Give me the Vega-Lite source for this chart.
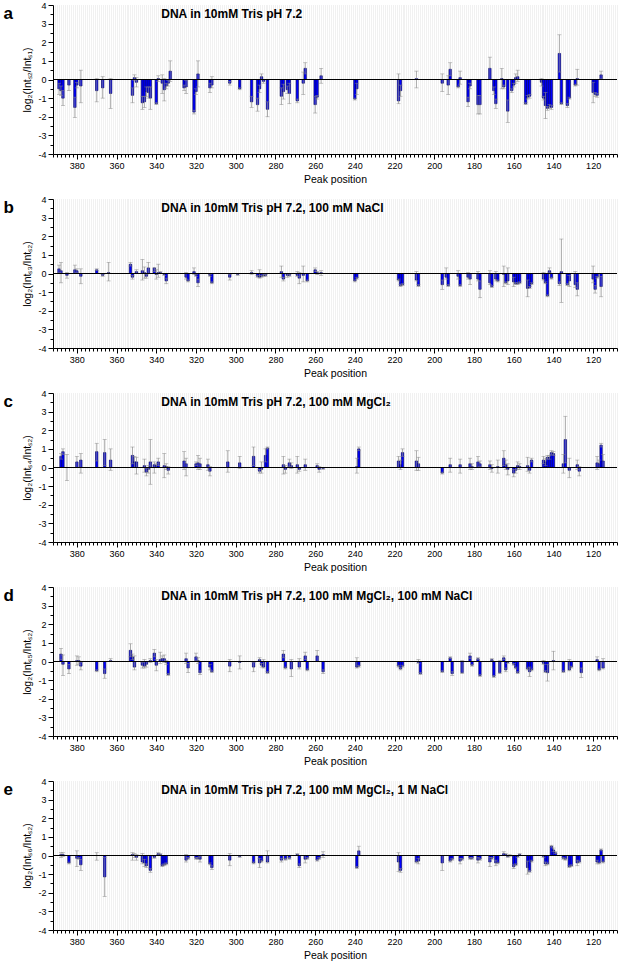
{
"$schema":"https://vega.github.io/schema/vega-lite/v6.json",
"padding":{"left":3,"top":1,"right":0,"bottom":0},
"spacing":10,
"config":{"view":{"stroke":null},"font":"Liberation Sans",
 "axis":{"domainColor":"black","tickColor":"black","labelColor":"black","titleColor":"black","labelFontSize":9,"titleFontSize":10.5,"titleFontWeight":"normal","labelFont":"Liberation Sans","titleFont":"Liberation Sans"}},
"data":{"values":[
{"panel":"a","pos":389,"val":-0.5,"lo":-0.8,"hi":-0.2},
{"panel":"a","pos":388,"val":-0.6,"lo":-0.85,"hi":-0.35},
{"panel":"a","pos":387,"val":-1.0,"lo":-1.4,"hi":-0.6},
{"panel":"a","pos":384,"val":-0.3,"lo":-0.6,"hi":0.0},
{"panel":"a","pos":381,"val":-1.5,"lo":-2.05,"hi":-0.95},
{"panel":"a","pos":380,"val":-0.3,"lo":-0.45,"hi":-0.15},
{"panel":"a","pos":378,"val":-0.35,"lo":-1.25,"hi":0.5},
{"panel":"a","pos":370,"val":-0.6,"lo":-1.2,"hi":0.05},
{"panel":"a","pos":367,"val":-0.45,"lo":-1.0,"hi":0.15},
{"panel":"a","pos":363,"val":-0.75,"lo":-1.55,"hi":0.05},
{"panel":"a","pos":352,"val":-0.85,"lo":-1.25,"hi":-0.45},
{"panel":"a","pos":351,"val":0.1,"lo":-0.05,"hi":0.25},
{"panel":"a","pos":350,"val":-0.15,"lo":-0.4,"hi":0.1},
{"panel":"a","pos":347,"val":-1.25,"lo":-1.6,"hi":-0.9},
{"panel":"a","pos":346,"val":-1.2,"lo":-1.5,"hi":-0.9},
{"panel":"a","pos":345,"val":-0.65,"lo":-0.9,"hi":-0.4},
{"panel":"a","pos":344,"val":-0.7,"lo":-1.0,"hi":-0.4},
{"panel":"a","pos":343,"val":-1.0,"lo":-1.6,"hi":-0.4},
{"panel":"a","pos":340,"val":-1.3,"lo":-1.35,"hi":-1.25},
{"panel":"a","pos":339,"val":0.05,"lo":-0.1,"hi":0.2},
{"panel":"a","pos":337,"val":-0.2,"lo":-0.75,"hi":0.25},
{"panel":"a","pos":336,"val":-0.55,"lo":-1.15,"hi":0.05},
{"panel":"a","pos":335,"val":-0.35,"lo":-0.5,"hi":-0.2},
{"panel":"a","pos":334,"val":-0.2,"lo":-0.35,"hi":-0.05},
{"panel":"a","pos":333,"val":0.45,"lo":-0.1,"hi":1.0},
{"panel":"a","pos":326,"val":-0.45,"lo":-0.6,"hi":-0.3},
{"panel":"a","pos":325,"val":-0.4,"lo":-0.75,"hi":-0.05},
{"panel":"a","pos":321,"val":-1.75,"lo":-1.85,"hi":-1.65},
{"panel":"a","pos":320,"val":-0.65,"lo":-0.8,"hi":-0.5},
{"panel":"a","pos":319,"val":0.3,"lo":-0.4,"hi":1.0},
{"panel":"a","pos":313,"val":-0.45,"lo":-0.7,"hi":-0.2},
{"panel":"a","pos":312,"val":-0.3,"lo":-0.45,"hi":0.15},
{"panel":"a","pos":303,"val":-0.2,"lo":-0.3,"hi":-0.1},
{"panel":"a","pos":298,"val":-0.5,"lo":-0.55,"hi":-0.45},
{"panel":"a","pos":292,"val":-1.2,"lo":-1.5,"hi":-0.9},
{"panel":"a","pos":289,"val":-1.35,"lo":-1.7,"hi":-1.0},
{"panel":"a","pos":288,"val":-0.5,"lo":-0.7,"hi":-0.3},
{"panel":"a","pos":287,"val":0.15,"lo":0.0,"hi":0.3},
{"panel":"a","pos":286,"val":-0.1,"lo":-0.2,"hi":0.0},
{"panel":"a","pos":284,"val":-1.6,"lo":-2.0,"hi":-1.2},
{"panel":"a","pos":277,"val":-0.9,"lo":-1.35,"hi":-0.45},
{"panel":"a","pos":276,"val":-0.65,"lo":-1.05,"hi":-0.25},
{"panel":"a","pos":274,"val":-0.55,"lo":-0.75,"hi":-0.35},
{"panel":"a","pos":273,"val":-0.75,"lo":-1.3,"hi":-0.2},
{"panel":"a","pos":269,"val":-1.15,"lo":-1.25,"hi":-1.05},
{"panel":"a","pos":266,"val":-0.2,"lo":-0.8,"hi":0.4},
{"panel":"a","pos":265,"val":0.6,"lo":0.3,"hi":0.9},
{"panel":"a","pos":260,"val":-1.35,"lo":-1.8,"hi":-0.9},
{"panel":"a","pos":259,"val":-0.95,"lo":-1.05,"hi":-0.85},
{"panel":"a","pos":257,"val":0.2,"lo":-0.2,"hi":0.6},
{"panel":"a","pos":240,"val":-1.05,"lo":-1.1,"hi":-1.0},
{"panel":"a","pos":239,"val":-0.5,"lo":-0.8,"hi":-0.2},
{"panel":"a","pos":218,"val":-1.15,"lo":-1.3,"hi":0.3},
{"panel":"a","pos":217,"val":-0.6,"lo":-0.9,"hi":-0.3},
{"panel":"a","pos":209,"val":0.05,"lo":-0.45,"hi":0.45},
{"panel":"a","pos":196,"val":-0.2,"lo":-0.65,"hi":0.3},
{"panel":"a","pos":193,"val":-0.3,"lo":-0.8,"hi":0.2},
{"panel":"a","pos":192,"val":0.55,"lo":0.2,"hi":0.9},
{"panel":"a","pos":188,"val":-0.4,"lo":-0.45,"hi":-0.35},
{"panel":"a","pos":187,"val":0.1,"lo":-0.25,"hi":0.45},
{"panel":"a","pos":183,"val":-1.2,"lo":-1.45,"hi":-0.95},
{"panel":"a","pos":182,"val":-0.35,"lo":-0.5,"hi":-0.2},
{"panel":"a","pos":178,"val":-1.35,"lo":-1.85,"hi":-0.85},
{"panel":"a","pos":177,"val":-1.35,"lo":-1.85,"hi":-0.85},
{"panel":"a","pos":172,"val":0.6,"lo":0.0,"hi":1.2},
{"panel":"a","pos":170,"val":-0.6,"lo":-0.8,"hi":-0.4},
{"panel":"a","pos":169,"val":-1.3,"lo":-1.55,"hi":-1.05},
{"panel":"a","pos":166,"val":0.05,"lo":-0.5,"hi":0.6},
{"panel":"a","pos":165,"val":-0.4,"lo":-0.5,"hi":-0.3},
{"panel":"a","pos":163,"val":-1.7,"lo":-2.3,"hi":-1.1},
{"panel":"a","pos":161,"val":-0.6,"lo":-0.7,"hi":-0.5},
{"panel":"a","pos":160,"val":-0.3,"lo":-0.4,"hi":-0.2},
{"panel":"a","pos":159,"val":0.1,"lo":-0.2,"hi":0.3},
{"panel":"a","pos":158,"val":0.15,"lo":-0.1,"hi":0.5},
{"panel":"a","pos":154,"val":-1.3,"lo":-1.35,"hi":-1.25},
{"panel":"a","pos":153,"val":-0.95,"lo":-1.05,"hi":-0.85},
{"panel":"a","pos":152,"val":-0.9,"lo":-1.0,"hi":-0.8},
{"panel":"a","pos":146,"val":-0.15,"lo":-0.35,"hi":0.05},
{"panel":"a","pos":145,"val":-1.0,"lo":-1.1,"hi":-0.9},
{"panel":"a","pos":144,"val":-1.4,"lo":-2.1,"hi":-0.7},
{"panel":"a","pos":143,"val":-1.55,"lo":-1.65,"hi":-1.45},
{"panel":"a","pos":142,"val":-1.45,"lo":-1.55,"hi":-1.35},
{"panel":"a","pos":141,"val":-1.5,"lo":-1.6,"hi":-1.4},
{"panel":"a","pos":137,"val":1.4,"lo":0.4,"hi":2.4},
{"panel":"a","pos":136,"val":-1.3,"lo":-1.35,"hi":-1.25},
{"panel":"a","pos":133,"val":-1.4,"lo":-1.5,"hi":-1.3},
{"panel":"a","pos":132,"val":-1.0,"lo":-1.05,"hi":-0.95},
{"panel":"a","pos":129,"val":-0.3,"lo":-0.35,"hi":-0.25},
{"panel":"a","pos":128,"val":0.05,"lo":-0.3,"hi":0.55},
{"panel":"a","pos":120,"val":-0.7,"lo":-1.25,"hi":-0.15},
{"panel":"a","pos":119,"val":-0.8,"lo":-0.9,"hi":-0.7},
{"panel":"a","pos":118,"val":-0.85,"lo":-0.95,"hi":-0.75},
{"panel":"a","pos":116,"val":0.25,"lo":0.05,"hi":0.45},

{"panel":"b","pos":389,"val":0.25,"lo":0.05,"hi":0.45},
{"panel":"b","pos":388,"val":0.15,"lo":-0.5,"hi":0.6},
{"panel":"b","pos":385,"val":-0.1,"lo":-0.25,"hi":0.05},
{"panel":"b","pos":381,"val":0.2,"lo":0.0,"hi":0.45},
{"panel":"b","pos":380,"val":0.15,"lo":0.05,"hi":0.25},
{"panel":"b","pos":378,"val":-0.15,"lo":-0.55,"hi":0.25},
{"panel":"b","pos":370,"val":0.2,"lo":0.15,"hi":0.25},
{"panel":"b","pos":367,"val":-0.1,"lo":-0.15,"hi":-0.05},
{"panel":"b","pos":364,"val":0.05,"lo":-0.4,"hi":0.6},
{"panel":"b","pos":353,"val":0.5,"lo":0.4,"hi":0.6},
{"panel":"b","pos":352,"val":-0.2,"lo":-0.3,"hi":-0.1},
{"panel":"b","pos":350,"val":0.1,"lo":0.0,"hi":0.2},
{"panel":"b","pos":347,"val":0.15,"lo":-0.35,"hi":0.75},
{"panel":"b","pos":346,"val":0.05,"lo":-0.25,"hi":0.35},
{"panel":"b","pos":345,"val":-0.15,"lo":-0.25,"hi":-0.05},
{"panel":"b","pos":344,"val":0.3,"lo":0.0,"hi":0.6},
{"panel":"b","pos":341,"val":0.3,"lo":0.1,"hi":0.3},
{"panel":"b","pos":340,"val":-0.05,"lo":-0.3,"hi":0.2},
{"panel":"b","pos":339,"val":0.05,"lo":-0.2,"hi":0.5},
{"panel":"b","pos":338,"val":0.05,"lo":0.0,"hi":0.1},
{"panel":"b","pos":336,"val":-0.05,"lo":-0.1,"hi":0.0},
{"panel":"b","pos":335,"val":-0.4,"lo":-0.55,"hi":-0.25},
{"panel":"b","pos":325,"val":-0.2,"lo":-0.3,"hi":0.05},
{"panel":"b","pos":324,"val":-0.4,"lo":-0.45,"hi":-0.35},
{"panel":"b","pos":321,"val":0.1,"lo":-0.05,"hi":0.3},
{"panel":"b","pos":320,"val":-0.1,"lo":-0.15,"hi":-0.05},
{"panel":"b","pos":319,"val":-0.5,"lo":-0.7,"hi":-0.3},
{"panel":"b","pos":313,"val":-0.1,"lo":-0.15,"hi":-0.05},
{"panel":"b","pos":312,"val":-0.5,"lo":-0.55,"hi":-0.45},
{"panel":"b","pos":303,"val":-0.2,"lo":-0.35,"hi":-0.05},
{"panel":"b","pos":299,"val":-0.05,"lo":-0.1,"hi":0.0},
{"panel":"b","pos":292,"val":0.05,"lo":-0.05,"hi":0.15},
{"panel":"b","pos":289,"val":-0.15,"lo":-0.2,"hi":-0.1},
{"panel":"b","pos":288,"val":-0.2,"lo":-0.25,"hi":0.2},
{"panel":"b","pos":287,"val":-0.15,"lo":-0.2,"hi":-0.1},
{"panel":"b","pos":286,"val":-0.1,"lo":-0.15,"hi":-0.05},
{"panel":"b","pos":285,"val":-0.1,"lo":-0.15,"hi":-0.05},
{"panel":"b","pos":277,"val":0.1,"lo":-0.2,"hi":0.4},
{"panel":"b","pos":276,"val":-0.3,"lo":-0.4,"hi":-0.2},
{"panel":"b","pos":274,"val":-0.1,"lo":-0.2,"hi":0.0},
{"panel":"b","pos":273,"val":-0.1,"lo":-0.15,"hi":-0.05},
{"panel":"b","pos":269,"val":-0.1,"lo":-0.15,"hi":0.1},
{"panel":"b","pos":268,"val":-0.25,"lo":-0.55,"hi":0.05},
{"panel":"b","pos":266,"val":-0.1,"lo":-0.45,"hi":0.4},
{"panel":"b","pos":264,"val":-0.4,"lo":-0.45,"hi":-0.35},
{"panel":"b","pos":260,"val":0.2,"lo":0.1,"hi":0.3},
{"panel":"b","pos":259,"val":0.05,"lo":-0.05,"hi":0.1},
{"panel":"b","pos":257,"val":0.05,"lo":-0.1,"hi":0.15},
{"panel":"b","pos":240,"val":-0.4,"lo":-0.45,"hi":-0.35},
{"panel":"b","pos":239,"val":-0.25,"lo":-0.3,"hi":-0.2},
{"panel":"b","pos":218,"val":-0.35,"lo":-0.4,"hi":-0.3},
{"panel":"b","pos":217,"val":-0.65,"lo":-0.7,"hi":-0.6},
{"panel":"b","pos":216,"val":-0.6,"lo":-0.65,"hi":-0.55},
{"panel":"b","pos":209,"val":-0.35,"lo":-0.4,"hi":0.1},
{"panel":"b","pos":208,"val":-0.65,"lo":-0.7,"hi":-0.6},
{"panel":"b","pos":196,"val":-0.6,"lo":-0.85,"hi":-0.35},
{"panel":"b","pos":194,"val":-0.2,"lo":-0.3,"hi":0.3},
{"panel":"b","pos":193,"val":-0.65,"lo":-0.7,"hi":-0.6},
{"panel":"b","pos":188,"val":-0.15,"lo":-0.3,"hi":0.15},
{"panel":"b","pos":187,"val":-0.65,"lo":-0.7,"hi":-0.6},
{"panel":"b","pos":183,"val":-0.2,"lo":-0.3,"hi":0.05},
{"panel":"b","pos":182,"val":-0.3,"lo":-0.6,"hi":0.0},
{"panel":"b","pos":178,"val":-0.3,"lo":-0.4,"hi":0.1},
{"panel":"b","pos":177,"val":-0.85,"lo":-1.3,"hi":-0.4},
{"panel":"b","pos":172,"val":-0.5,"lo":-0.6,"hi":0.15},
{"panel":"b","pos":171,"val":-0.7,"lo":-0.75,"hi":-0.65},
{"panel":"b","pos":169,"val":-0.3,"lo":-0.4,"hi":0.1},
{"panel":"b","pos":168,"val":-0.4,"lo":-0.45,"hi":-0.35},
{"panel":"b","pos":165,"val":-0.05,"lo":-0.7,"hi":0.4},
{"panel":"b","pos":164,"val":-0.5,"lo":-0.55,"hi":-0.45},
{"panel":"b","pos":163,"val":-0.4,"lo":-0.6,"hi":0.3},
{"panel":"b","pos":160,"val":-0.45,"lo":-0.7,"hi":-0.2},
{"panel":"b","pos":159,"val":-0.55,"lo":-0.6,"hi":-0.5},
{"panel":"b","pos":158,"val":-0.55,"lo":-0.6,"hi":-0.5},
{"panel":"b","pos":157,"val":-0.5,"lo":-0.55,"hi":-0.45},
{"panel":"b","pos":153,"val":-0.8,"lo":-1.25,"hi":-0.35},
{"panel":"b","pos":152,"val":-0.75,"lo":-0.8,"hi":-0.7},
{"panel":"b","pos":151,"val":-0.55,"lo":-0.6,"hi":-0.5},
{"panel":"b","pos":145,"val":-0.3,"lo":-0.35,"hi":0.05},
{"panel":"b","pos":144,"val":-0.5,"lo":-0.55,"hi":-0.45},
{"panel":"b","pos":143,"val":-1.2,"lo":-1.25,"hi":-1.15},
{"panel":"b","pos":142,"val":0.15,"lo":0.05,"hi":0.3},
{"panel":"b","pos":141,"val":-0.25,"lo":-0.3,"hi":-0.2},
{"panel":"b","pos":137,"val":-0.55,"lo":-0.65,"hi":-0.45},
{"panel":"b","pos":136,"val":0.1,"lo":-1.55,"hi":1.85},
{"panel":"b","pos":133,"val":-0.6,"lo":-0.65,"hi":-0.55},
{"panel":"b","pos":132,"val":-0.4,"lo":-0.7,"hi":-0.1},
{"panel":"b","pos":129,"val":-0.6,"lo":-0.75,"hi":0.1},
{"panel":"b","pos":128,"val":-0.85,"lo":-1.2,"hi":-0.5},
{"panel":"b","pos":120,"val":-0.3,"lo":-0.5,"hi":0.4},
{"panel":"b","pos":119,"val":-0.85,"lo":-1.05,"hi":-0.65},
{"panel":"b","pos":118,"val":-0.2,"lo":-0.25,"hi":-0.15},
{"panel":"b","pos":116,"val":-0.7,"lo":-1.25,"hi":-0.15},

{"panel":"c","pos":388,"val":0.6,"lo":0.45,"hi":0.75},
{"panel":"c","pos":387,"val":0.85,"lo":0.7,"hi":1.0},
{"panel":"c","pos":385,"val":0.0,"lo":-0.7,"hi":0.7},
{"panel":"c","pos":380,"val":0.3,"lo":0.0,"hi":0.6},
{"panel":"c","pos":378,"val":0.4,"lo":-0.3,"hi":0.75},
{"panel":"c","pos":370,"val":0.85,"lo":0.35,"hi":1.3},
{"panel":"c","pos":366,"val":0.8,"lo":0.1,"hi":1.5},
{"panel":"c","pos":363,"val":0.4,"lo":-0.15,"hi":1.0},
{"panel":"c","pos":352,"val":0.65,"lo":0.2,"hi":1.1},
{"panel":"c","pos":351,"val":0.3,"lo":0.0,"hi":0.6},
{"panel":"c","pos":350,"val":0.3,"lo":-0.35,"hi":0.55},
{"panel":"c","pos":346,"val":0.1,"lo":-0.25,"hi":0.45},
{"panel":"c","pos":345,"val":-0.25,"lo":-0.45,"hi":-0.05},
{"panel":"c","pos":344,"val":-0.1,"lo":-0.3,"hi":0.1},
{"panel":"c","pos":343,"val":0.3,"lo":-0.9,"hi":1.5},
{"panel":"c","pos":341,"val":0.15,"lo":-0.3,"hi":0.3},
{"panel":"c","pos":340,"val":0.1,"lo":0.0,"hi":0.2},
{"panel":"c","pos":339,"val":0.3,"lo":0.1,"hi":0.5},
{"panel":"c","pos":336,"val":0.1,"lo":-0.55,"hi":0.75},
{"panel":"c","pos":335,"val":0.05,"lo":-0.1,"hi":0.2},
{"panel":"c","pos":334,"val":-0.15,"lo":-0.35,"hi":0.05},
{"panel":"c","pos":326,"val":0.35,"lo":-0.1,"hi":0.85},
{"panel":"c","pos":325,"val":0.2,"lo":-0.45,"hi":0.5},
{"panel":"c","pos":320,"val":0.2,"lo":0.1,"hi":0.3},
{"panel":"c","pos":319,"val":0.25,"lo":-0.1,"hi":0.65},
{"panel":"c","pos":318,"val":0.2,"lo":-0.1,"hi":0.5},
{"panel":"c","pos":314,"val":0.15,"lo":-0.15,"hi":0.45},
{"panel":"c","pos":313,"val":-0.2,"lo":-0.45,"hi":0.05},
{"panel":"c","pos":304,"val":0.3,"lo":-0.25,"hi":0.9},
{"panel":"c","pos":298,"val":0.25,"lo":-0.05,"hi":0.6},
{"panel":"c","pos":291,"val":0.6,"lo":0.1,"hi":1.1},
{"panel":"c","pos":288,"val":-0.2,"lo":-0.3,"hi":-0.1},
{"panel":"c","pos":287,"val":-0.1,"lo":-0.3,"hi":0.3},
{"panel":"c","pos":285,"val":0.65,"lo":0.3,"hi":1.0},
{"panel":"c","pos":284,"val":1.05,"lo":1.0,"hi":1.1},
{"panel":"c","pos":276,"val":0.15,"lo":-0.35,"hi":0.6},
{"panel":"c","pos":275,"val":-0.1,"lo":-0.3,"hi":0.1},
{"panel":"c","pos":273,"val":0.25,"lo":0.05,"hi":0.45},
{"panel":"c","pos":272,"val":0.1,"lo":-0.05,"hi":0.25},
{"panel":"c","pos":269,"val":0.15,"lo":-0.3,"hi":0.6},
{"panel":"c","pos":268,"val":-0.1,"lo":-0.2,"hi":0.0},
{"panel":"c","pos":265,"val":0.15,"lo":-0.15,"hi":0.45},
{"panel":"c","pos":259,"val":0.1,"lo":0.0,"hi":0.2},
{"panel":"c","pos":258,"val":-0.1,"lo":-0.25,"hi":0.05},
{"panel":"c","pos":256,"val":-0.05,"lo":-0.1,"hi":0.0},
{"panel":"c","pos":239,"val":0.05,"lo":-0.3,"hi":0.5},
{"panel":"c","pos":238,"val":1.0,"lo":0.9,"hi":1.1},
{"panel":"c","pos":218,"val":0.35,"lo":0.0,"hi":0.6},
{"panel":"c","pos":217,"val":0.15,"lo":-0.1,"hi":0.4},
{"panel":"c","pos":216,"val":0.8,"lo":0.6,"hi":1.0},
{"panel":"c","pos":209,"val":0.35,"lo":-0.15,"hi":0.9},
{"panel":"c","pos":208,"val":0.2,"lo":-0.15,"hi":0.55},
{"panel":"c","pos":196,"val":-0.3,"lo":-0.35,"hi":-0.25},
{"panel":"c","pos":192,"val":0.15,"lo":-0.25,"hi":0.5},
{"panel":"c","pos":187,"val":0.15,"lo":-0.3,"hi":0.45},
{"panel":"c","pos":182,"val":0.2,"lo":-0.1,"hi":0.5},
{"panel":"c","pos":181,"val":0.05,"lo":-0.1,"hi":0.2},
{"panel":"c","pos":178,"val":0.3,"lo":0.0,"hi":0.6},
{"panel":"c","pos":177,"val":0.2,"lo":0.05,"hi":0.35},
{"panel":"c","pos":172,"val":0.15,"lo":-0.1,"hi":0.35},
{"panel":"c","pos":171,"val":-0.05,"lo":-0.25,"hi":0.15},
{"panel":"c","pos":168,"val":0.05,"lo":-0.3,"hi":0.4},
{"panel":"c","pos":165,"val":0.5,"lo":0.1,"hi":0.9},
{"panel":"c","pos":164,"val":0.15,"lo":-0.1,"hi":0.4},
{"panel":"c","pos":163,"val":-0.1,"lo":-0.4,"hi":0.2},
{"panel":"c","pos":160,"val":-0.3,"lo":-0.5,"hi":-0.1},
{"panel":"c","pos":159,"val":-0.15,"lo":-0.3,"hi":0.0},
{"panel":"c","pos":158,"val":0.1,"lo":-0.1,"hi":0.3},
{"panel":"c","pos":157,"val":0.05,"lo":-0.1,"hi":0.2},
{"panel":"c","pos":153,"val":0.1,"lo":-0.2,"hi":0.55},
{"panel":"c","pos":152,"val":-0.15,"lo":-0.3,"hi":0.0},
{"panel":"c","pos":151,"val":0.4,"lo":0.3,"hi":0.5},
{"panel":"c","pos":145,"val":0.4,"lo":0.2,"hi":0.6},
{"panel":"c","pos":144,"val":0.3,"lo":0.1,"hi":0.5},
{"panel":"c","pos":143,"val":0.55,"lo":0.45,"hi":0.65},
{"panel":"c","pos":142,"val":0.55,"lo":0.45,"hi":0.65},
{"panel":"c","pos":141,"val":0.8,"lo":0.7,"hi":0.9},
{"panel":"c","pos":140,"val":0.75,"lo":0.65,"hi":0.85},
{"panel":"c","pos":135,"val":0.2,"lo":-0.3,"hi":0.7},
{"panel":"c","pos":134,"val":1.5,"lo":0.25,"hi":2.75},
{"panel":"c","pos":132,"val":-0.15,"lo":-0.55,"hi":0.5},
{"panel":"c","pos":128,"val":0.15,"lo":-0.1,"hi":0.4},
{"panel":"c","pos":127,"val":-0.2,"lo":-0.45,"hi":0.05},
{"panel":"c","pos":118,"val":0.25,"lo":-0.1,"hi":0.6},
{"panel":"c","pos":117,"val":0.2,"lo":0.0,"hi":0.4},
{"panel":"c","pos":116,"val":1.2,"lo":1.1,"hi":1.3},
{"panel":"c","pos":115,"val":0.35,"lo":0.0,"hi":0.7},

{"panel":"d","pos":388,"val":0.4,"lo":0.1,"hi":0.7},
{"panel":"d","pos":387,"val":-0.15,"lo":-0.75,"hi":0.35},
{"panel":"d","pos":384,"val":-0.4,"lo":-0.65,"hi":-0.15},
{"panel":"d","pos":380,"val":0.05,"lo":-0.2,"hi":0.3},
{"panel":"d","pos":379,"val":0.05,"lo":-0.15,"hi":0.25},
{"panel":"d","pos":378,"val":-0.25,"lo":-0.45,"hi":-0.05},
{"panel":"d","pos":370,"val":-0.5,"lo":-0.55,"hi":-0.45},
{"panel":"d","pos":366,"val":-0.65,"lo":-0.9,"hi":-0.4},
{"panel":"d","pos":363,"val":0.05,"lo":0.0,"hi":0.15},
{"panel":"d","pos":353,"val":0.6,"lo":0.25,"hi":0.95},
{"panel":"d","pos":352,"val":0.25,"lo":0.1,"hi":0.4},
{"panel":"d","pos":351,"val":-0.3,"lo":-0.45,"hi":0.3},
{"panel":"d","pos":347,"val":-0.2,"lo":-0.35,"hi":-0.05},
{"panel":"d","pos":346,"val":-0.25,"lo":-0.35,"hi":0.1},
{"panel":"d","pos":345,"val":-0.15,"lo":-0.3,"hi":0.0},
{"panel":"d","pos":343,"val":0.05,"lo":-0.05,"hi":0.15},
{"panel":"d","pos":341,"val":0.45,"lo":0.25,"hi":0.65},
{"panel":"d","pos":340,"val":-0.2,"lo":-0.5,"hi":0.1},
{"panel":"d","pos":338,"val":0.1,"lo":-0.1,"hi":0.5},
{"panel":"d","pos":337,"val":0.15,"lo":0.0,"hi":0.3},
{"panel":"d","pos":336,"val":0.15,"lo":-0.05,"hi":0.35},
{"panel":"d","pos":335,"val":-0.05,"lo":-0.15,"hi":0.05},
{"panel":"d","pos":334,"val":-0.7,"lo":-0.75,"hi":-0.65},
{"panel":"d","pos":325,"val":0.15,"lo":-0.1,"hi":0.45},
{"panel":"d","pos":324,"val":-0.35,"lo":-0.6,"hi":-0.1},
{"panel":"d","pos":320,"val":0.25,"lo":0.05,"hi":0.45},
{"panel":"d","pos":319,"val":0.05,"lo":-0.1,"hi":0.2},
{"panel":"d","pos":318,"val":-0.6,"lo":-0.7,"hi":-0.5},
{"panel":"d","pos":313,"val":-0.3,"lo":-0.45,"hi":-0.15},
{"panel":"d","pos":312,"val":-0.55,"lo":-0.6,"hi":-0.5},
{"panel":"d","pos":303,"val":-0.25,"lo":-0.55,"hi":0.1},
{"panel":"d","pos":298,"val":-0.05,"lo":-0.4,"hi":0.3},
{"panel":"d","pos":291,"val":-0.3,"lo":-0.55,"hi":-0.05},
{"panel":"d","pos":288,"val":0.1,"lo":0.0,"hi":0.2},
{"panel":"d","pos":287,"val":-0.2,"lo":-0.3,"hi":-0.1},
{"panel":"d","pos":286,"val":-0.3,"lo":-0.35,"hi":0.1},
{"panel":"d","pos":284,"val":-0.6,"lo":-0.65,"hi":-0.55},
{"panel":"d","pos":276,"val":0.4,"lo":0.2,"hi":0.6},
{"panel":"d","pos":275,"val":-0.35,"lo":-0.4,"hi":-0.3},
{"panel":"d","pos":272,"val":-0.4,"lo":-0.8,"hi":0.1},
{"panel":"d","pos":268,"val":-0.3,"lo":-0.4,"hi":0.15},
{"panel":"d","pos":265,"val":0.3,"lo":0.1,"hi":0.5},
{"panel":"d","pos":264,"val":-0.45,"lo":-0.5,"hi":-0.4},
{"panel":"d","pos":259,"val":0.3,"lo":0.0,"hi":0.6},
{"panel":"d","pos":256,"val":-0.55,"lo":-0.65,"hi":-0.45},
{"panel":"d","pos":239,"val":-0.3,"lo":-0.35,"hi":0.2},
{"panel":"d","pos":238,"val":-0.25,"lo":-0.3,"hi":-0.2},
{"panel":"d","pos":218,"val":-0.25,"lo":-0.3,"hi":-0.2},
{"panel":"d","pos":217,"val":-0.4,"lo":-0.45,"hi":-0.35},
{"panel":"d","pos":216,"val":-0.25,"lo":-0.3,"hi":-0.2},
{"panel":"d","pos":208,"val":-0.05,"lo":-0.1,"hi":0.1},
{"panel":"d","pos":207,"val":-0.65,"lo":-0.7,"hi":-0.6},
{"panel":"d","pos":196,"val":-0.55,"lo":-0.6,"hi":-0.5},
{"panel":"d","pos":192,"val":0.2,"lo":0.15,"hi":0.25},
{"panel":"d","pos":191,"val":-0.65,"lo":-0.75,"hi":-0.55},
{"panel":"d","pos":186,"val":-0.6,"lo":-0.65,"hi":0.05},
{"panel":"d","pos":182,"val":0.3,"lo":0.15,"hi":0.45},
{"panel":"d","pos":181,"val":-0.2,"lo":-0.25,"hi":-0.15},
{"panel":"d","pos":178,"val":0.15,"lo":0.1,"hi":0.2},
{"panel":"d","pos":177,"val":-0.75,"lo":-0.8,"hi":-0.7},
{"panel":"d","pos":171,"val":0.1,"lo":0.05,"hi":0.15},
{"panel":"d","pos":170,"val":-0.8,"lo":-0.85,"hi":-0.75},
{"panel":"d","pos":167,"val":-0.6,"lo":-0.65,"hi":0.05},
{"panel":"d","pos":165,"val":0.2,"lo":0.1,"hi":0.3},
{"panel":"d","pos":164,"val":-0.45,"lo":-0.55,"hi":-0.35},
{"panel":"d","pos":163,"val":-0.05,"lo":-0.1,"hi":0.0},
{"panel":"d","pos":160,"val":-0.15,"lo":-0.2,"hi":-0.1},
{"panel":"d","pos":159,"val":-0.35,"lo":-0.4,"hi":-0.3},
{"panel":"d","pos":158,"val":-0.6,"lo":-0.65,"hi":-0.55},
{"panel":"d","pos":153,"val":-0.4,"lo":-0.45,"hi":-0.35},
{"panel":"d","pos":152,"val":-0.55,"lo":-0.8,"hi":-0.3},
{"panel":"d","pos":151,"val":-0.45,"lo":-0.5,"hi":-0.4},
{"panel":"d","pos":145,"val":-0.1,"lo":-0.15,"hi":0.05},
{"panel":"d","pos":144,"val":-0.55,"lo":-0.6,"hi":-0.5},
{"panel":"d","pos":143,"val":-0.6,"lo":-1.05,"hi":-0.15},
{"panel":"d","pos":140,"val":0.05,"lo":-0.45,"hi":0.55},
{"panel":"d","pos":135,"val":-0.55,"lo":-0.6,"hi":-0.5},
{"panel":"d","pos":132,"val":-0.45,"lo":-0.5,"hi":0.1},
{"panel":"d","pos":131,"val":-0.3,"lo":-0.35,"hi":-0.25},
{"panel":"d","pos":126,"val":-0.6,"lo":-0.85,"hi":-0.35},
{"panel":"d","pos":118,"val":0.1,"lo":0.0,"hi":0.25},
{"panel":"d","pos":117,"val":-0.45,"lo":-0.5,"hi":-0.4},
{"panel":"d","pos":115,"val":-0.35,"lo":-0.4,"hi":0.15},

{"panel":"e","pos":388,"val":0.05,"lo":-0.1,"hi":0.15},
{"panel":"e","pos":387,"val":0.05,"lo":-0.05,"hi":0.15},
{"panel":"e","pos":384,"val":-0.4,"lo":-0.45,"hi":-0.35},
{"panel":"e","pos":380,"val":-0.15,"lo":-0.6,"hi":0.25},
{"panel":"e","pos":379,"val":-0.15,"lo":-0.2,"hi":-0.1},
{"panel":"e","pos":378,"val":-0.5,"lo":-0.8,"hi":-0.2},
{"panel":"e","pos":370,"val":0.0,"lo":-0.25,"hi":0.15},
{"panel":"e","pos":366,"val":-1.15,"lo":-2.2,"hi":-0.1},
{"panel":"e","pos":352,"val":0.05,"lo":-0.25,"hi":0.15},
{"panel":"e","pos":351,"val":0.0,"lo":-0.1,"hi":0.1},
{"panel":"e","pos":350,"val":-0.1,"lo":-0.25,"hi":0.05},
{"panel":"e","pos":347,"val":-0.35,"lo":-0.45,"hi":0.1},
{"panel":"e","pos":346,"val":-0.4,"lo":-0.6,"hi":-0.2},
{"panel":"e","pos":345,"val":-0.55,"lo":-0.65,"hi":-0.45},
{"panel":"e","pos":343,"val":-0.8,"lo":-0.9,"hi":-0.7},
{"panel":"e","pos":341,"val":-0.1,"lo":-0.15,"hi":0.0},
{"panel":"e","pos":339,"val":0.1,"lo":0.05,"hi":0.15},
{"panel":"e","pos":338,"val":0.05,"lo":0.0,"hi":0.1},
{"panel":"e","pos":337,"val":-0.55,"lo":-0.6,"hi":-0.5},
{"panel":"e","pos":336,"val":-0.5,"lo":-0.55,"hi":-0.45},
{"panel":"e","pos":335,"val":-0.45,"lo":-0.5,"hi":-0.4},
{"panel":"e","pos":325,"val":-0.25,"lo":-0.35,"hi":0.05},
{"panel":"e","pos":324,"val":-0.15,"lo":-0.2,"hi":-0.1},
{"panel":"e","pos":320,"val":-0.15,"lo":-0.2,"hi":-0.1},
{"panel":"e","pos":319,"val":-0.15,"lo":-0.2,"hi":-0.1},
{"panel":"e","pos":318,"val":-0.2,"lo":-0.35,"hi":-0.05},
{"panel":"e","pos":313,"val":-0.45,"lo":-0.5,"hi":-0.4},
{"panel":"e","pos":312,"val":-0.65,"lo":-0.75,"hi":-0.55},
{"panel":"e","pos":303,"val":-0.25,"lo":-0.55,"hi":0.1},
{"panel":"e","pos":298,"val":-0.05,"lo":-0.1,"hi":0.0},
{"panel":"e","pos":291,"val":-0.4,"lo":-0.45,"hi":-0.35},
{"panel":"e","pos":288,"val":-0.4,"lo":-0.65,"hi":-0.15},
{"panel":"e","pos":287,"val":-0.3,"lo":-0.35,"hi":-0.25},
{"panel":"e","pos":284,"val":-0.35,"lo":-0.4,"hi":0.25},
{"panel":"e","pos":277,"val":-0.25,"lo":-0.35,"hi":-0.15},
{"panel":"e","pos":275,"val":-0.2,"lo":-0.25,"hi":-0.15},
{"panel":"e","pos":273,"val":-0.15,"lo":-0.2,"hi":-0.1},
{"panel":"e","pos":269,"val":0.05,"lo":0.0,"hi":0.1},
{"panel":"e","pos":268,"val":-0.55,"lo":-0.65,"hi":-0.45},
{"panel":"e","pos":265,"val":-0.2,"lo":-0.4,"hi":0.0},
{"panel":"e","pos":264,"val":-0.15,"lo":-0.2,"hi":-0.1},
{"panel":"e","pos":259,"val":-0.25,"lo":-0.3,"hi":-0.2},
{"panel":"e","pos":258,"val":-0.15,"lo":-0.2,"hi":-0.1},
{"panel":"e","pos":256,"val":0.05,"lo":-0.1,"hi":0.2},
{"panel":"e","pos":239,"val":-0.65,"lo":-0.7,"hi":-0.6},
{"panel":"e","pos":238,"val":0.25,"lo":0.0,"hi":0.5},
{"panel":"e","pos":218,"val":-0.35,"lo":-0.85,"hi":0.15},
{"panel":"e","pos":217,"val":-0.8,"lo":-0.9,"hi":-0.7},
{"panel":"e","pos":209,"val":-0.35,"lo":-0.4,"hi":-0.3},
{"panel":"e","pos":208,"val":-0.3,"lo":-0.45,"hi":-0.15},
{"panel":"e","pos":196,"val":-0.4,"lo":-0.8,"hi":0.0},
{"panel":"e","pos":192,"val":-0.3,"lo":-0.35,"hi":-0.25},
{"panel":"e","pos":191,"val":-0.2,"lo":-0.25,"hi":-0.15},
{"panel":"e","pos":187,"val":-0.3,"lo":-0.45,"hi":-0.15},
{"panel":"e","pos":186,"val":-0.2,"lo":-0.25,"hi":-0.15},
{"panel":"e","pos":182,"val":-0.15,"lo":-0.2,"hi":-0.1},
{"panel":"e","pos":181,"val":-0.15,"lo":-0.2,"hi":-0.1},
{"panel":"e","pos":178,"val":-0.25,"lo":-0.4,"hi":-0.1},
{"panel":"e","pos":177,"val":-0.2,"lo":-0.25,"hi":-0.15},
{"panel":"e","pos":172,"val":-0.35,"lo":-0.6,"hi":-0.1},
{"panel":"e","pos":171,"val":-0.15,"lo":-0.2,"hi":-0.1},
{"panel":"e","pos":169,"val":-0.4,"lo":-0.55,"hi":-0.25},
{"panel":"e","pos":168,"val":-0.4,"lo":-0.45,"hi":-0.35},
{"panel":"e","pos":165,"val":0.1,"lo":0.0,"hi":0.2},
{"panel":"e","pos":164,"val":0.05,"lo":0.0,"hi":0.1},
{"panel":"e","pos":163,"val":-0.05,"lo":-0.1,"hi":0.0},
{"panel":"e","pos":162,"val":0.0,"lo":-0.05,"hi":0.05},
{"panel":"e","pos":160,"val":-0.6,"lo":-0.7,"hi":-0.5},
{"panel":"e","pos":159,"val":-0.5,"lo":-0.55,"hi":-0.45},
{"panel":"e","pos":158,"val":-0.05,"lo":-0.1,"hi":0.0},
{"panel":"e","pos":157,"val":0.05,"lo":0.0,"hi":0.1},
{"panel":"e","pos":153,"val":-0.65,"lo":-1.0,"hi":-0.3},
{"panel":"e","pos":152,"val":-0.85,"lo":-0.9,"hi":-0.8},
{"panel":"e","pos":151,"val":-0.3,"lo":-0.35,"hi":-0.25},
{"panel":"e","pos":145,"val":-0.05,"lo":-0.1,"hi":0.0},
{"panel":"e","pos":144,"val":-0.45,"lo":-0.55,"hi":-0.35},
{"panel":"e","pos":143,"val":-0.45,"lo":-0.5,"hi":-0.4},
{"panel":"e","pos":141,"val":0.5,"lo":0.45,"hi":0.55},
{"panel":"e","pos":140,"val":0.3,"lo":0.2,"hi":0.4},
{"panel":"e","pos":139,"val":0.15,"lo":0.1,"hi":0.2},
{"panel":"e","pos":135,"val":-0.15,"lo":-0.2,"hi":-0.1},
{"panel":"e","pos":134,"val":-0.2,"lo":-0.25,"hi":-0.15},
{"panel":"e","pos":132,"val":-0.6,"lo":-0.65,"hi":-0.55},
{"panel":"e","pos":131,"val":-0.55,"lo":-0.6,"hi":-0.5},
{"panel":"e","pos":128,"val":-0.4,"lo":-0.55,"hi":-0.25},
{"panel":"e","pos":127,"val":-0.35,"lo":-0.4,"hi":-0.3},
{"panel":"e","pos":118,"val":-0.35,"lo":-0.45,"hi":-0.25},
{"panel":"e","pos":117,"val":-0.4,"lo":-0.45,"hi":-0.35},
{"panel":"e","pos":116,"val":0.3,"lo":0.25,"hi":0.35},
{"panel":"e","pos":115,"val":-0.35,"lo":-0.4,"hi":-0.3}
]},
"vconcat":[
{"width":564,"height":149,"layer":[
 {"transform":[{"filter":"datum.panel === 'a'"}],"layer":[
  {"mark":{"type":"bar","width":2.4,"fill":"#0000ff","stroke":"#00004d","strokeWidth":0.6},
   "encoding":{"x":{"field":"pos","type":"quantitative","scale":{"domain":[110.5,389.5],"reverse":true,"nice":false,"zero":false},
     "axis":{"title":"Peak position","tickCount":280,"grid":true,"gridColor":"#d2d2d2","gridDash":[1,1],"gridWidth":0.6,"labelExpr":"datum.value % 20 === 0 ? datum.label : ''","labelOverlap":false,"labelFlush":false,"tickOpacity":{"condition":{"test":"datum.value % 2 === 0","value":1},"value":0},"tickSize":{"condition":{"test":"datum.value % 20 === 0","value":5},"value":3},"labelPadding":2,"titlePadding":4}},
    "y":{"field":"val","type":"quantitative","scale":{"domain":[-4,4],"nice":false},
     "axis":{"title":"log₂(Intₛ₂/Intₛ₁)","tickCount":16,"labelExpr":"datum.value % 1 === 0 ? '' + datum.value : ''","labelOverlap":false,"labelFlush":false,"grid":false,"tickSize":{"condition":{"test":"datum.value % 1 === 0","value":5},"value":3},"labelPadding":2,"titlePadding":5}},
    "y2":{"datum":0}}},
  {"mark":{"type":"rule","color":"#8a8a8a","strokeWidth":0.7},"encoding":{"x":{"field":"pos","type":"quantitative"},"y":{"field":"lo","type":"quantitative"},"y2":{"field":"hi"}}},
  {"mark":{"type":"tick","orient":"horizontal","size":4,"thickness":0.7,"color":"#8a8a8a"},"encoding":{"x":{"field":"pos","type":"quantitative"},"y":{"field":"lo","type":"quantitative"}}},
  {"mark":{"type":"tick","orient":"horizontal","size":4,"thickness":0.7,"color":"#8a8a8a"},"encoding":{"x":{"field":"pos","type":"quantitative"},"y":{"field":"hi","type":"quantitative"}}}
 ]},
 {"data":{"values":[{"z":0}]},"mark":{"type":"rule","color":"black","strokeWidth":1},"encoding":{"y":{"field":"z","type":"quantitative"}}},
 {"data":{"values":[{"t":"a"}]},"mark":{"type":"text","align":"left","baseline":"middle","fontSize":17,"fontWeight":"bold"},"encoding":{"x":{"datum":417,"type":"quantitative"},"y":{"datum":3.5,"type":"quantitative"},"text":{"field":"t"}}},
 {"data":{"values":[{"t":"DNA in 10mM Tris pH 7.2"}]},"mark":{"type":"text","align":"left","baseline":"middle","fontSize":12,"fontWeight":"bold"},"encoding":{"x":{"datum":337.5,"type":"quantitative"},"y":{"datum":3.5,"type":"quantitative"},"text":{"field":"t"}}}
]},
{"width":564,"height":149,"layer":[
 {"transform":[{"filter":"datum.panel === 'b'"}],"layer":[
  {"mark":{"type":"bar","width":2.4,"fill":"#0000ff","stroke":"#00004d","strokeWidth":0.6},
   "encoding":{"x":{"field":"pos","type":"quantitative","scale":{"domain":[110.5,389.5],"reverse":true,"nice":false,"zero":false},
     "axis":{"title":"Peak position","tickCount":280,"grid":true,"gridColor":"#d2d2d2","gridDash":[1,1],"gridWidth":0.6,"labelExpr":"datum.value % 20 === 0 ? datum.label : ''","labelOverlap":false,"labelFlush":false,"tickOpacity":{"condition":{"test":"datum.value % 2 === 0","value":1},"value":0},"tickSize":{"condition":{"test":"datum.value % 20 === 0","value":5},"value":3},"labelPadding":2,"titlePadding":4}},
    "y":{"field":"val","type":"quantitative","scale":{"domain":[-4,4],"nice":false},
     "axis":{"title":"log₂(Intₛ₃/Intₛ₂)","tickCount":16,"labelExpr":"datum.value % 1 === 0 ? '' + datum.value : ''","labelOverlap":false,"labelFlush":false,"grid":false,"tickSize":{"condition":{"test":"datum.value % 1 === 0","value":5},"value":3},"labelPadding":2,"titlePadding":5}},
    "y2":{"datum":0}}},
  {"mark":{"type":"rule","color":"#8a8a8a","strokeWidth":0.7},"encoding":{"x":{"field":"pos","type":"quantitative"},"y":{"field":"lo","type":"quantitative"},"y2":{"field":"hi"}}},
  {"mark":{"type":"tick","orient":"horizontal","size":4,"thickness":0.7,"color":"#8a8a8a"},"encoding":{"x":{"field":"pos","type":"quantitative"},"y":{"field":"lo","type":"quantitative"}}},
  {"mark":{"type":"tick","orient":"horizontal","size":4,"thickness":0.7,"color":"#8a8a8a"},"encoding":{"x":{"field":"pos","type":"quantitative"},"y":{"field":"hi","type":"quantitative"}}}
 ]},
 {"data":{"values":[{"z":0}]},"mark":{"type":"rule","color":"black","strokeWidth":1},"encoding":{"y":{"field":"z","type":"quantitative"}}},
 {"data":{"values":[{"t":"b"}]},"mark":{"type":"text","align":"left","baseline":"middle","fontSize":17,"fontWeight":"bold"},"encoding":{"x":{"datum":417,"type":"quantitative"},"y":{"datum":3.5,"type":"quantitative"},"text":{"field":"t"}}},
 {"data":{"values":[{"t":"DNA in 10mM Tris pH 7.2, 100 mM NaCl"}]},"mark":{"type":"text","align":"left","baseline":"middle","fontSize":12,"fontWeight":"bold"},"encoding":{"x":{"datum":337.5,"type":"quantitative"},"y":{"datum":3.5,"type":"quantitative"},"text":{"field":"t"}}}
]},
{"width":564,"height":149,"layer":[
 {"transform":[{"filter":"datum.panel === 'c'"}],"layer":[
  {"mark":{"type":"bar","width":2.4,"fill":"#0000ff","stroke":"#00004d","strokeWidth":0.6},
   "encoding":{"x":{"field":"pos","type":"quantitative","scale":{"domain":[110.5,389.5],"reverse":true,"nice":false,"zero":false},
     "axis":{"title":"Peak position","tickCount":280,"grid":true,"gridColor":"#d2d2d2","gridDash":[1,1],"gridWidth":0.6,"labelExpr":"datum.value % 20 === 0 ? datum.label : ''","labelOverlap":false,"labelFlush":false,"tickOpacity":{"condition":{"test":"datum.value % 2 === 0","value":1},"value":0},"tickSize":{"condition":{"test":"datum.value % 20 === 0","value":5},"value":3},"labelPadding":2,"titlePadding":4}},
    "y":{"field":"val","type":"quantitative","scale":{"domain":[-4,4],"nice":false},
     "axis":{"title":"log₂(Intₛ₄/Intₛ₂)","tickCount":16,"labelExpr":"datum.value % 1 === 0 ? '' + datum.value : ''","labelOverlap":false,"labelFlush":false,"grid":false,"tickSize":{"condition":{"test":"datum.value % 1 === 0","value":5},"value":3},"labelPadding":2,"titlePadding":5}},
    "y2":{"datum":0}}},
  {"mark":{"type":"rule","color":"#8a8a8a","strokeWidth":0.7},"encoding":{"x":{"field":"pos","type":"quantitative"},"y":{"field":"lo","type":"quantitative"},"y2":{"field":"hi"}}},
  {"mark":{"type":"tick","orient":"horizontal","size":4,"thickness":0.7,"color":"#8a8a8a"},"encoding":{"x":{"field":"pos","type":"quantitative"},"y":{"field":"lo","type":"quantitative"}}},
  {"mark":{"type":"tick","orient":"horizontal","size":4,"thickness":0.7,"color":"#8a8a8a"},"encoding":{"x":{"field":"pos","type":"quantitative"},"y":{"field":"hi","type":"quantitative"}}}
 ]},
 {"data":{"values":[{"z":0}]},"mark":{"type":"rule","color":"black","strokeWidth":1},"encoding":{"y":{"field":"z","type":"quantitative"}}},
 {"data":{"values":[{"t":"c"}]},"mark":{"type":"text","align":"left","baseline":"middle","fontSize":17,"fontWeight":"bold"},"encoding":{"x":{"datum":417,"type":"quantitative"},"y":{"datum":3.5,"type":"quantitative"},"text":{"field":"t"}}},
 {"data":{"values":[{"t":"DNA in 10mM Tris pH 7.2, 100 mM MgCl₂"}]},"mark":{"type":"text","align":"left","baseline":"middle","fontSize":12,"fontWeight":"bold"},"encoding":{"x":{"datum":337.5,"type":"quantitative"},"y":{"datum":3.5,"type":"quantitative"},"text":{"field":"t"}}}
]},
{"width":564,"height":149,"layer":[
 {"transform":[{"filter":"datum.panel === 'd'"}],"layer":[
  {"mark":{"type":"bar","width":2.4,"fill":"#0000ff","stroke":"#00004d","strokeWidth":0.6},
   "encoding":{"x":{"field":"pos","type":"quantitative","scale":{"domain":[110.5,389.5],"reverse":true,"nice":false,"zero":false},
     "axis":{"title":"Peak position","tickCount":280,"grid":true,"gridColor":"#d2d2d2","gridDash":[1,1],"gridWidth":0.6,"labelExpr":"datum.value % 20 === 0 ? datum.label : ''","labelOverlap":false,"labelFlush":false,"tickOpacity":{"condition":{"test":"datum.value % 2 === 0","value":1},"value":0},"tickSize":{"condition":{"test":"datum.value % 20 === 0","value":5},"value":3},"labelPadding":2,"titlePadding":4}},
    "y":{"field":"val","type":"quantitative","scale":{"domain":[-4,4],"nice":false},
     "axis":{"title":"log₂(Intₛ₅/Intₛ₂)","tickCount":16,"labelExpr":"datum.value % 1 === 0 ? '' + datum.value : ''","labelOverlap":false,"labelFlush":false,"grid":false,"tickSize":{"condition":{"test":"datum.value % 1 === 0","value":5},"value":3},"labelPadding":2,"titlePadding":5}},
    "y2":{"datum":0}}},
  {"mark":{"type":"rule","color":"#8a8a8a","strokeWidth":0.7},"encoding":{"x":{"field":"pos","type":"quantitative"},"y":{"field":"lo","type":"quantitative"},"y2":{"field":"hi"}}},
  {"mark":{"type":"tick","orient":"horizontal","size":4,"thickness":0.7,"color":"#8a8a8a"},"encoding":{"x":{"field":"pos","type":"quantitative"},"y":{"field":"lo","type":"quantitative"}}},
  {"mark":{"type":"tick","orient":"horizontal","size":4,"thickness":0.7,"color":"#8a8a8a"},"encoding":{"x":{"field":"pos","type":"quantitative"},"y":{"field":"hi","type":"quantitative"}}}
 ]},
 {"data":{"values":[{"z":0}]},"mark":{"type":"rule","color":"black","strokeWidth":1},"encoding":{"y":{"field":"z","type":"quantitative"}}},
 {"data":{"values":[{"t":"d"}]},"mark":{"type":"text","align":"left","baseline":"middle","fontSize":17,"fontWeight":"bold"},"encoding":{"x":{"datum":417,"type":"quantitative"},"y":{"datum":3.5,"type":"quantitative"},"text":{"field":"t"}}},
 {"data":{"values":[{"t":"DNA in 10mM Tris pH 7.2, 100 mM MgCl₂, 100 mM NaCl"}]},"mark":{"type":"text","align":"left","baseline":"middle","fontSize":12,"fontWeight":"bold"},"encoding":{"x":{"datum":337.5,"type":"quantitative"},"y":{"datum":3.5,"type":"quantitative"},"text":{"field":"t"}}}
]},
{"width":564,"height":149,"layer":[
 {"transform":[{"filter":"datum.panel === 'e'"}],"layer":[
  {"mark":{"type":"bar","width":2.4,"fill":"#0000ff","stroke":"#00004d","strokeWidth":0.6},
   "encoding":{"x":{"field":"pos","type":"quantitative","scale":{"domain":[110.5,389.5],"reverse":true,"nice":false,"zero":false},
     "axis":{"title":"Peak position","tickCount":280,"grid":true,"gridColor":"#d2d2d2","gridDash":[1,1],"gridWidth":0.6,"labelExpr":"datum.value % 20 === 0 ? datum.label : ''","labelOverlap":false,"labelFlush":false,"tickOpacity":{"condition":{"test":"datum.value % 2 === 0","value":1},"value":0},"tickSize":{"condition":{"test":"datum.value % 20 === 0","value":5},"value":3},"labelPadding":2,"titlePadding":4}},
    "y":{"field":"val","type":"quantitative","scale":{"domain":[-4,4],"nice":false},
     "axis":{"title":"log₂(Intₛ₆/Intₛ₂)","tickCount":16,"labelExpr":"datum.value % 1 === 0 ? '' + datum.value : ''","labelOverlap":false,"labelFlush":false,"grid":false,"tickSize":{"condition":{"test":"datum.value % 1 === 0","value":5},"value":3},"labelPadding":2,"titlePadding":5}},
    "y2":{"datum":0}}},
  {"mark":{"type":"rule","color":"#8a8a8a","strokeWidth":0.7},"encoding":{"x":{"field":"pos","type":"quantitative"},"y":{"field":"lo","type":"quantitative"},"y2":{"field":"hi"}}},
  {"mark":{"type":"tick","orient":"horizontal","size":4,"thickness":0.7,"color":"#8a8a8a"},"encoding":{"x":{"field":"pos","type":"quantitative"},"y":{"field":"lo","type":"quantitative"}}},
  {"mark":{"type":"tick","orient":"horizontal","size":4,"thickness":0.7,"color":"#8a8a8a"},"encoding":{"x":{"field":"pos","type":"quantitative"},"y":{"field":"hi","type":"quantitative"}}}
 ]},
 {"data":{"values":[{"z":0}]},"mark":{"type":"rule","color":"black","strokeWidth":1},"encoding":{"y":{"field":"z","type":"quantitative"}}},
 {"data":{"values":[{"t":"e"}]},"mark":{"type":"text","align":"left","baseline":"middle","fontSize":17,"fontWeight":"bold"},"encoding":{"x":{"datum":417,"type":"quantitative"},"y":{"datum":3.5,"type":"quantitative"},"text":{"field":"t"}}},
 {"data":{"values":[{"t":"DNA in 10mM Tris pH 7.2, 100 mM MgCl₂, 1 M NaCl"}]},"mark":{"type":"text","align":"left","baseline":"middle","fontSize":12,"fontWeight":"bold"},"encoding":{"x":{"datum":337.5,"type":"quantitative"},"y":{"datum":3.5,"type":"quantitative"},"text":{"field":"t"}}}
]}
]
}
